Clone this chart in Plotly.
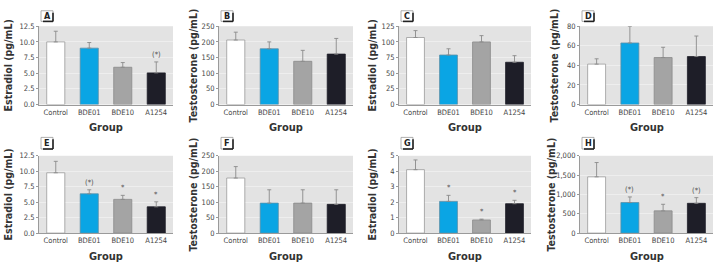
import plotly.graph_objects as go

groups = ["Control", "BDE01", "BDE10", "A1254"]

A_mean = [10.0, 9.0, 5.95, 5.05]
A_err = [1.7, 0.9, 0.75, 1.75]
A_sig = ["", "", "", "(*)"]

B_mean = [206, 178, 138, 161]
B_err = [25, 22, 35, 50]
B_sig = ["", "", "", ""]

C_mean = [107, 79, 100, 67.5]
C_err = [11, 10, 10, 10.5]
C_sig = ["", "", "", ""]

D_mean = [41.3, 62.9, 48, 49]
D_err = [5.4, 17, 10.5, 21]
D_sig = ["", "", "", ""]

E_mean = [9.75, 6.35, 5.45, 4.25]
E_err = [1.85, 0.65, 0.65, 0.8]
E_sig = ["", "(*)", "*", "*"]

F_mean = [178, 97, 97, 93]
F_err = [37, 43, 43, 47]
F_sig = ["", "", "", ""]

G_mean = [4.1, 2.05, 0.85, 1.9]
G_err = [0.63, 0.39, 0.05, 0.22]
G_sig = ["", "*", "*", "*"]

H_mean = [1455, 790, 575, 770]
H_err = [370, 145, 170, 147]
H_sig = ["", "(*)", "*", "(*)"]

y_titles = ["Estradiol (pg/mL)", "Testosterone (pg/mL)"] * 4
y_ranges = [12.5, 250, 125, 80, 12.5, 250, 5, 2000]
y_dticks = [2.5, 50, 25, 20, 2.5, 50, 1, 500]
y_formats = [".1f", "d", "d", "d", ".1f", "d", "d", ",d"]
letters = ["A", "B", "C", "D", "E", "F", "G", "H"]
x_title = "Group"

panels = [
    (A_mean, A_err, A_sig), (B_mean, B_err, B_sig),
    (C_mean, C_err, C_sig), (D_mean, D_err, D_sig),
    (E_mean, E_err, E_sig), (F_mean, F_err, F_sig),
    (G_mean, G_err, G_sig), (H_mean, H_err, H_sig),
]

W, H = 718, 270
col_px = [(39, 173), (219, 353), (399, 531), (580, 713)]
row_px = [(23, 104), (157, 237)]
title_off = [31, 26, 27, 26, 31, 26, 27, 29]
box_y = [(7, 18), (138, 150)]

bar_colors = ["#FFFFFF", "#0AA5E4", "#A4A4A4", "#1E1E28"]
bar_lines = ["#9A9A9A", "#5A8FA8", "#8A8A8A", "#1E1E28"]
FONT = "Liberation Sans Narrow, DejaVu Sans Condensed, Arial Narrow, sans-serif"
TXT = "#333333"
TICK_SIZE = 7.5
YT_SIZE = 10.5
XT_SIZE = 11

fig = go.Figure()
annotations = []
shapes = []

def px2x(p):
    return p / W

def px2y(p):
    return 1 - p / H

for i, (mean, err, sig) in enumerate(panels):
    r, c = divmod(i, 4)
    x0, x1 = col_px[c]
    yt, yb = row_px[r]
    n = "" if i == 0 else str(i + 1)
    xa, ya = "x" + n, "y" + n
    fig.add_trace(go.Bar(
        x=groups, y=mean, xaxis=xa, yaxis=ya,
        marker=dict(color=bar_colors, line=dict(color=bar_lines, width=0.8)),
        error_y=dict(type="data", symmetric=False, array=err,
                     arrayminus=[0] * len(err), color="#8A8A8A",
                     thickness=0.9, width=2),
        width=0.54, showlegend=False, hoverinfo="x+y",
    ))
    fig.update_layout(**{
        "xaxis" + n: dict(domain=[px2x(x0), px2x(x1)], anchor=ya,
                          showgrid=False, showline=True, linecolor="#9A9A9A",
                          linewidth=1, ticks="", fixedrange=True,
                          tickfont=dict(family=FONT, size=TICK_SIZE, color="#444444")),
        "yaxis" + n: dict(domain=[px2y(yb), px2y(yt)], anchor=xa,
                          range=[0, y_ranges[i]], dtick=y_dticks[i], tick0=0,
                          tickformat=y_formats[i], showgrid=True,
                          gridcolor="#EEEEEE", gridwidth=1, zeroline=False,
                          showline=True, linecolor="#9A9A9A", linewidth=1,
                          ticks="outside", ticklen=2, tickcolor="#9A9A9A",
                          fixedrange=True,
                          tickfont=dict(family=FONT, size=TICK_SIZE, color="#444444")),
    })
    for g, m, e, s in zip(groups, mean, err, sig):
        if s:
            annotations.append(dict(x=g, y=m + e, xref=xa, yref=ya,
                                    text=s, showarrow=False, yanchor="bottom",
                                    yshift=1,
                                    font=dict(family=FONT, size=7.5, color="#555555")))
    annotations.append(dict(x=px2x(x0 - title_off[i]), y=px2y((yt + yb) / 2),
                            xref="paper", yref="paper", text="<b>" + y_titles[i] + "</b>",
                            textangle=-90, showarrow=False,
                            xanchor="center", yanchor="middle",
                            font=dict(family=FONT, size=YT_SIZE, color=TXT)))
    annotations.append(dict(x=px2x((x0 + x1) / 2), y=px2y(yb + 24),
                            xref="paper", yref="paper", text="<b>" + x_title + "</b>",
                            showarrow=False, xanchor="center", yanchor="middle",
                            font=dict(family=FONT, size=XT_SIZE, color=TXT)))
    bx0, bx1 = x0 + 2, x0 + 14
    by0, by1 = box_y[r]
    shapes.append(dict(type="rect", xref="paper", yref="paper",
                       x0=px2x(bx0), x1=px2x(bx1), y0=px2y(by1), y1=px2y(by0),
                       fillcolor="white", line=dict(color="#9A9A9A", width=0.8)))
    shapes.append(dict(type="line", xref="paper", yref="paper",
                       x0=px2x(bx1), x1=px2x(bx1), y0=px2y(by1), y1=px2y(by0 + 2),
                       line=dict(color="#222222", width=1.6)))
    shapes.append(dict(type="line", xref="paper", yref="paper",
                       x0=px2x(bx0 + 2), x1=px2x(bx1), y0=px2y(by1), y1=px2y(by1),
                       line=dict(color="#222222", width=1.6)))
    annotations.append(dict(x=px2x((bx0 + bx1) / 2), y=px2y((by0 + by1) / 2),
                            xref="paper", yref="paper", text="<b>" + letters[i] + "</b>",
                            showarrow=False, xanchor="center", yanchor="middle",
                            font=dict(family=FONT, size=9, color="#222222")))

fig.update_layout(
    width=W, height=H,
    margin=dict(l=0, r=0, t=0, b=0),
    paper_bgcolor="white", plot_bgcolor="#E3E3E3",
    annotations=annotations, shapes=shapes,
    font=dict(family=FONT, color=TXT),
)

fig.write_html("out.html", config={"displayModeBar": False},
               post_script="document.body.style.margin='0';document.body.style.padding='0';document.body.style.overflow='hidden';")
